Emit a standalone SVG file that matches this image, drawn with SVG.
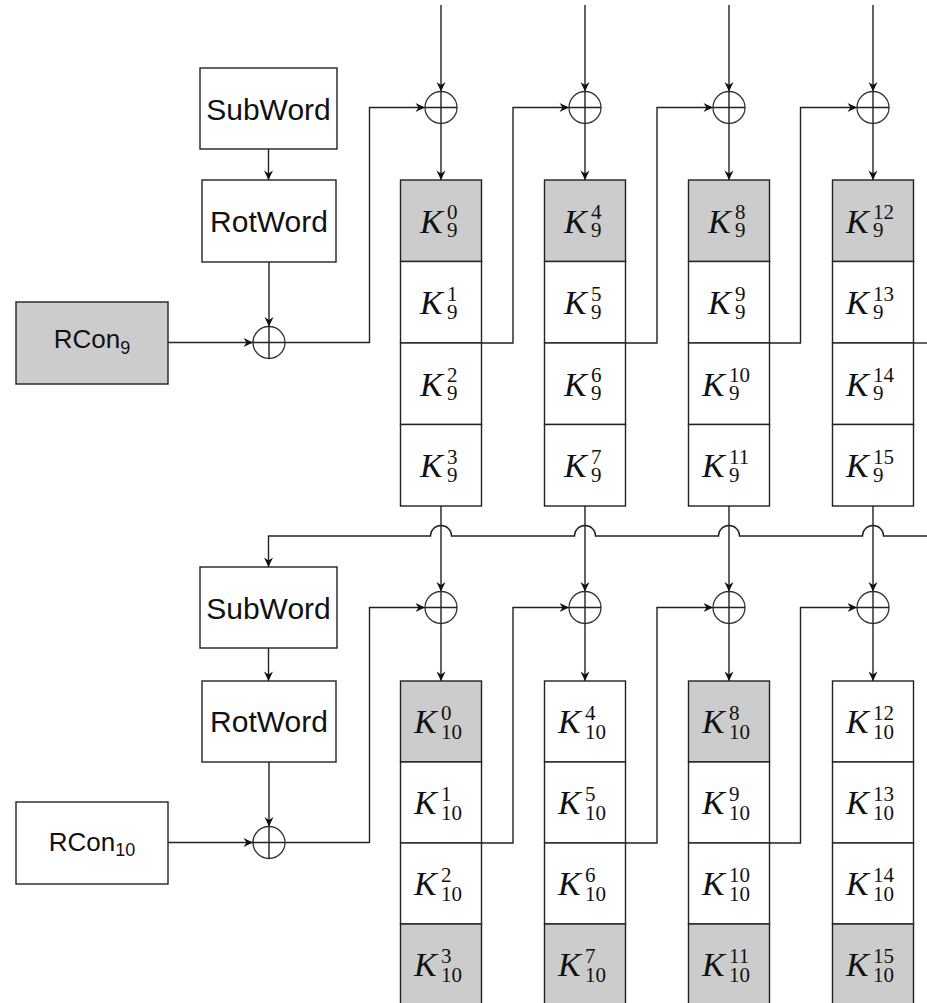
<svg xmlns="http://www.w3.org/2000/svg" width="927" height="1003" viewBox="0 0 927 1003">
<style>
.box{fill:#fff;stroke:#222;stroke-width:1.4}
.g{fill:#cccccc}
.ln{fill:none;stroke:#222;stroke-width:1.4}
.arr{marker-end:url(#ah)}
.xc{fill:none;stroke:#333;stroke-width:1.3}
.lab{font-family:"Liberation Sans","DejaVu Sans",sans-serif;font-size:30px;fill:#111}
.rc{font-family:"Liberation Sans","DejaVu Sans",sans-serif;font-size:26px;fill:#111}
.k{font-family:"Liberation Serif","DejaVu Serif",serif;font-size:34px;font-style:italic;fill:#111}
.s{font-family:"Liberation Serif","DejaVu Serif",serif;font-size:21px;font-style:normal;fill:#111}
</style>
<defs>
<marker id="ah" viewBox="-10 -5 11 10" refX="0" refY="0" markerWidth="11" markerHeight="10" markerUnits="userSpaceOnUse" orient="auto">
<path d="M0,0 L-9.5,-4.5 L-6.5,0 L-9.5,4.5 Z" fill="#111"/>
</marker>
</defs>

<g id="connectors">
<!-- top incoming -->
<path class="ln arr" d="M441 5 V91.5"/>
<path class="ln arr" d="M585 5 V91.5"/>
<path class="ln arr" d="M729 5 V91.5"/>
<path class="ln arr" d="M873 5 V91.5"/>
<!-- top XOR to boxes -->
<path class="ln arr" d="M441 123.5 V180"/>
<path class="ln arr" d="M585 123.5 V180"/>
<path class="ln arr" d="M729 123.5 V180"/>
<path class="ln arr" d="M873 123.5 V180"/>
<!-- top left chain -->
<path class="ln arr" d="M268.5 149 V180"/>
<path class="ln arr" d="M269 262 V326.5"/>
<path class="ln arr" d="M168 342.5 H253"/>
<path class="ln arr" d="M285 342.5 H369.5 V107.5 H425"/>
<!-- top column feeds -->
<path class="ln arr" d="M481.5 343 H513 V107.5 H569"/>
<path class="ln arr" d="M625.5 343 H657 V107.5 H713"/>
<path class="ln arr" d="M769.5 343 H800.5 V107.5 H857"/>
<path class="ln" d="M913.5 343 H927"/>
<!-- jump line -->
<path class="ln arr" d="M927 536 H883.5 A10.5 10.5 0 0 0 862.5 536 H739.5 A10.5 10.5 0 0 0 718.5 536 H595.5 A10.5 10.5 0 0 0 574.5 536 H451.5 A10.5 10.5 0 0 0 430.5 536 H268.5 V567"/>
<!-- verticals from K9 bottom to lower XOR -->
<path class="ln arr" d="M441 506 V591.5"/>
<path class="ln arr" d="M585 506 V591.5"/>
<path class="ln arr" d="M729 506 V591.5"/>
<path class="ln arr" d="M873 506 V591.5"/>
<!-- lower XOR to boxes -->
<path class="ln arr" d="M441 623.5 V681"/>
<path class="ln arr" d="M585 623.5 V681"/>
<path class="ln arr" d="M729 623.5 V681"/>
<path class="ln arr" d="M873 623.5 V681"/>
<!-- lower left chain -->
<path class="ln arr" d="M268.5 648 V681"/>
<path class="ln arr" d="M269 762 V826.5"/>
<path class="ln arr" d="M168 842.5 H253"/>
<path class="ln arr" d="M285 842.5 H369.5 V607.5 H425"/>
<!-- lower column feeds -->
<path class="ln arr" d="M481.5 843 H513 V607.5 H569"/>
<path class="ln arr" d="M625.5 843 H657 V607.5 H713"/>
<path class="ln arr" d="M769.5 843 H800.5 V607.5 H857"/>
</g>

<!-- XOR nodes -->
<g id="xor-l9"><circle class="xc" cx="269" cy="342.5" r="16"/><path class="ln" d="M253 342.5 H285 M269 326.5 V358.5"/></g>
<g id="xor-l10"><circle class="xc" cx="269" cy="842.5" r="16"/><path class="ln" d="M253 842.5 H285 M269 826.5 V858.5"/></g>
<g id="xor-t1"><circle class="xc" cx="441" cy="107.5" r="16"/><path class="ln" d="M425 107.5 H457 M441 91.5 V123.5"/></g>
<g id="xor-t2"><circle class="xc" cx="585" cy="107.5" r="16"/><path class="ln" d="M569 107.5 H601 M585 91.5 V123.5"/></g>
<g id="xor-t3"><circle class="xc" cx="729" cy="107.5" r="16"/><path class="ln" d="M713 107.5 H745 M729 91.5 V123.5"/></g>
<g id="xor-t4"><circle class="xc" cx="873" cy="107.5" r="16"/><path class="ln" d="M857 107.5 H889 M873 91.5 V123.5"/></g>
<g id="xor-b1"><circle class="xc" cx="441" cy="607.5" r="16"/><path class="ln" d="M425 607.5 H457 M441 591.5 V623.5"/></g>
<g id="xor-b2"><circle class="xc" cx="585" cy="607.5" r="16"/><path class="ln" d="M569 607.5 H601 M585 591.5 V623.5"/></g>
<g id="xor-b3"><circle class="xc" cx="729" cy="607.5" r="16"/><path class="ln" d="M713 607.5 H745 M729 591.5 V623.5"/></g>
<g id="xor-b4"><circle class="xc" cx="873" cy="607.5" r="16"/><path class="ln" d="M857 607.5 H889 M873 591.5 V623.5"/></g>

<!-- left boxes -->
<g id="subword9"><rect class="box" x="200" y="68" width="137" height="81"/><text class="lab" x="268.5" y="120" text-anchor="middle">SubWord</text></g>
<g id="rotword9"><rect class="box" x="202" y="180" width="134" height="82"/><text class="lab" x="269" y="232" text-anchor="middle">RotWord</text></g>
<g id="rcon9"><rect class="box g" x="16" y="302" width="152" height="82"/><text class="rc" x="92" y="348" text-anchor="middle">RCon<tspan font-size="18" dy="6">9</tspan></text></g>
<g id="subword10"><rect class="box" x="200" y="567" width="137" height="81"/><text class="lab" x="268.5" y="619" text-anchor="middle">SubWord</text></g>
<g id="rotword10"><rect class="box" x="202" y="681" width="134" height="81"/><text class="lab" x="269" y="732" text-anchor="middle">RotWord</text></g>
<g id="rcon10"><rect class="box" x="16" y="802" width="152" height="82"/><text class="rc" x="92" y="851" text-anchor="middle">RCon<tspan font-size="18" dy="5">10</tspan></text></g>

<!-- K9 boxes -->
<g id="k9-0"><rect class="box g" x="400.5" y="180" width="81" height="81.5"/><text class="k" x="420" y="232.5">K<tspan class="s" x="447" y="219">0</tspan><tspan class="s" x="447" y="237">9</tspan></text></g>
<g id="k9-1"><rect class="box" x="400.5" y="261.5" width="81" height="81.5"/><text class="k" x="420" y="314">K<tspan class="s" x="447" y="300.5">1</tspan><tspan class="s" x="447" y="318.5">9</tspan></text></g>
<g id="k9-2"><rect class="box" x="400.5" y="343" width="81" height="81.5"/><text class="k" x="420" y="395.5">K<tspan class="s" x="447" y="382">2</tspan><tspan class="s" x="447" y="400">9</tspan></text></g>
<g id="k9-3"><rect class="box" x="400.5" y="424.5" width="81" height="81.5"/><text class="k" x="420" y="477">K<tspan class="s" x="447" y="463.5">3</tspan><tspan class="s" x="447" y="481.5">9</tspan></text></g>

<g id="k9-4"><rect class="box g" x="544.5" y="180" width="81" height="81.5"/><text class="k" x="564" y="232.5">K<tspan class="s" x="591" y="219">4</tspan><tspan class="s" x="591" y="237">9</tspan></text></g>
<g id="k9-5"><rect class="box" x="544.5" y="261.5" width="81" height="81.5"/><text class="k" x="564" y="314">K<tspan class="s" x="591" y="300.5">5</tspan><tspan class="s" x="591" y="318.5">9</tspan></text></g>
<g id="k9-6"><rect class="box" x="544.5" y="343" width="81" height="81.5"/><text class="k" x="564" y="395.5">K<tspan class="s" x="591" y="382">6</tspan><tspan class="s" x="591" y="400">9</tspan></text></g>
<g id="k9-7"><rect class="box" x="544.5" y="424.5" width="81" height="81.5"/><text class="k" x="564" y="477">K<tspan class="s" x="591" y="463.5">7</tspan><tspan class="s" x="591" y="481.5">9</tspan></text></g>

<g id="k9-8"><rect class="box g" x="688.5" y="180" width="81" height="81.5"/><text class="k" x="708" y="232.5">K<tspan class="s" x="735" y="219">8</tspan><tspan class="s" x="735" y="237">9</tspan></text></g>
<g id="k9-9"><rect class="box" x="688.5" y="261.5" width="81" height="81.5"/><text class="k" x="708" y="314">K<tspan class="s" x="735" y="300.5">9</tspan><tspan class="s" x="735" y="318.5">9</tspan></text></g>
<g id="k9-10"><rect class="box" x="688.5" y="343" width="81" height="81.5"/><text class="k" x="702" y="395.5">K<tspan class="s" x="729" y="382">10</tspan><tspan class="s" x="729" y="400">9</tspan></text></g>
<g id="k9-11"><rect class="box" x="688.5" y="424.5" width="81" height="81.5"/><text class="k" x="702" y="477">K<tspan class="s" x="729" y="463.5">11</tspan><tspan class="s" x="729" y="481.5">9</tspan></text></g>

<g id="k9-12"><rect class="box g" x="832.5" y="180" width="81" height="81.5"/><text class="k" x="846" y="232.5">K<tspan class="s" x="873" y="219">12</tspan><tspan class="s" x="873" y="237">9</tspan></text></g>
<g id="k9-13"><rect class="box" x="832.5" y="261.5" width="81" height="81.5"/><text class="k" x="846" y="314">K<tspan class="s" x="873" y="300.5">13</tspan><tspan class="s" x="873" y="318.5">9</tspan></text></g>
<g id="k9-14"><rect class="box" x="832.5" y="343" width="81" height="81.5"/><text class="k" x="846" y="395.5">K<tspan class="s" x="873" y="382">14</tspan><tspan class="s" x="873" y="400">9</tspan></text></g>
<g id="k9-15"><rect class="box" x="832.5" y="424.5" width="81" height="81.5"/><text class="k" x="846" y="477">K<tspan class="s" x="873" y="463.5">15</tspan><tspan class="s" x="873" y="481.5">9</tspan></text></g>

<!-- K10 boxes -->
<g id="k10-0"><rect class="box g" x="400.5" y="681" width="81" height="81"/><text class="k" x="414" y="733">K<tspan class="s" x="441" y="720">0</tspan><tspan class="s" x="441" y="738.5">10</tspan></text></g>
<g id="k10-1"><rect class="box" x="400.5" y="762" width="81" height="81"/><text class="k" x="414" y="814">K<tspan class="s" x="441" y="801">1</tspan><tspan class="s" x="441" y="819.5">10</tspan></text></g>
<g id="k10-2"><rect class="box" x="400.5" y="843" width="81" height="81"/><text class="k" x="414" y="895">K<tspan class="s" x="441" y="882">2</tspan><tspan class="s" x="441" y="900.5">10</tspan></text></g>
<g id="k10-3"><rect class="box g" x="400.5" y="924" width="81" height="81"/><text class="k" x="414" y="976">K<tspan class="s" x="441" y="963">3</tspan><tspan class="s" x="441" y="981.5">10</tspan></text></g>

<g id="k10-4"><rect class="box" x="544.5" y="681" width="81" height="81"/><text class="k" x="558" y="733">K<tspan class="s" x="585" y="720">4</tspan><tspan class="s" x="585" y="738.5">10</tspan></text></g>
<g id="k10-5"><rect class="box" x="544.5" y="762" width="81" height="81"/><text class="k" x="558" y="814">K<tspan class="s" x="585" y="801">5</tspan><tspan class="s" x="585" y="819.5">10</tspan></text></g>
<g id="k10-6"><rect class="box" x="544.5" y="843" width="81" height="81"/><text class="k" x="558" y="895">K<tspan class="s" x="585" y="882">6</tspan><tspan class="s" x="585" y="900.5">10</tspan></text></g>
<g id="k10-7"><rect class="box g" x="544.5" y="924" width="81" height="81"/><text class="k" x="558" y="976">K<tspan class="s" x="585" y="963">7</tspan><tspan class="s" x="585" y="981.5">10</tspan></text></g>

<g id="k10-8"><rect class="box g" x="688.5" y="681" width="81" height="81"/><text class="k" x="702" y="733">K<tspan class="s" x="729" y="720">8</tspan><tspan class="s" x="729" y="738.5">10</tspan></text></g>
<g id="k10-9"><rect class="box" x="688.5" y="762" width="81" height="81"/><text class="k" x="702" y="814">K<tspan class="s" x="729" y="801">9</tspan><tspan class="s" x="729" y="819.5">10</tspan></text></g>
<g id="k10-10"><rect class="box" x="688.5" y="843" width="81" height="81"/><text class="k" x="702" y="895">K<tspan class="s" x="729" y="882">10</tspan><tspan class="s" x="729" y="900.5">10</tspan></text></g>
<g id="k10-11"><rect class="box g" x="688.5" y="924" width="81" height="81"/><text class="k" x="702" y="976">K<tspan class="s" x="729" y="963">11</tspan><tspan class="s" x="729" y="981.5">10</tspan></text></g>

<g id="k10-12"><rect class="box" x="832.5" y="681" width="81" height="81"/><text class="k" x="846" y="733">K<tspan class="s" x="873" y="720">12</tspan><tspan class="s" x="873" y="738.5">10</tspan></text></g>
<g id="k10-13"><rect class="box" x="832.5" y="762" width="81" height="81"/><text class="k" x="846" y="814">K<tspan class="s" x="873" y="801">13</tspan><tspan class="s" x="873" y="819.5">10</tspan></text></g>
<g id="k10-14"><rect class="box" x="832.5" y="843" width="81" height="81"/><text class="k" x="846" y="895">K<tspan class="s" x="873" y="882">14</tspan><tspan class="s" x="873" y="900.5">10</tspan></text></g>
<g id="k10-15"><rect class="box g" x="832.5" y="924" width="81" height="81"/><text class="k" x="846" y="976">K<tspan class="s" x="873" y="963">15</tspan><tspan class="s" x="873" y="981.5">10</tspan></text></g>
</svg>
